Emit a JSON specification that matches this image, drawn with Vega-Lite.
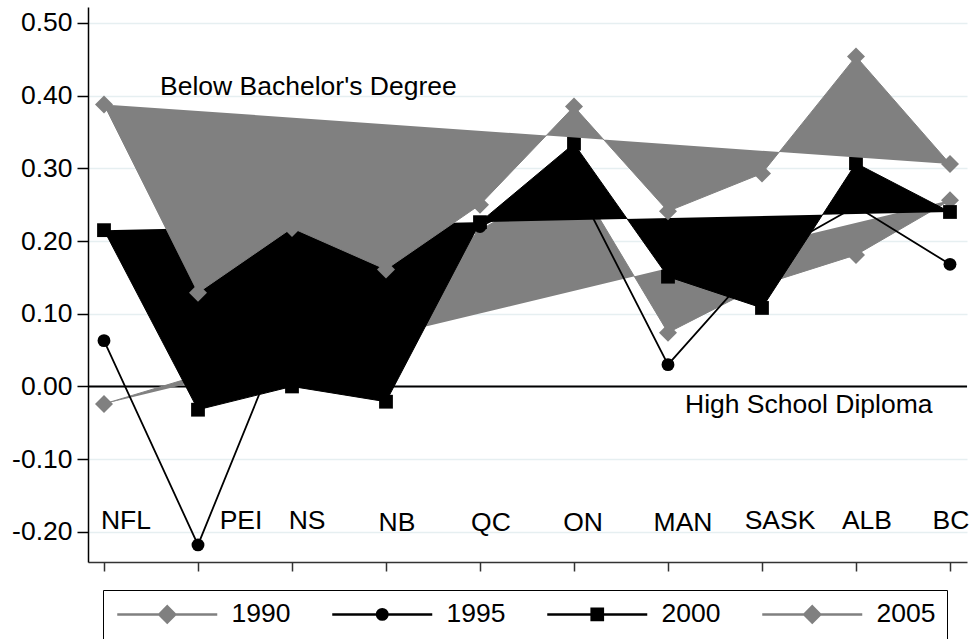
{
  "$schema": "https://vega.github.io/schema/vega-lite/v6.json",
  "width": 879,
  "height": 555,
  "autosize": {"type": "none"},
  "padding": {"left": 88, "top": 7, "right": 6, "bottom": 77},
  "background": "white",
  "config": {"view": {"stroke": null}, "font": "Liberation Sans"},
  "datasets": {
    "rates": [
      {"prov": "NFL", "x": 1, "series": "1990", "value": -0.024},
      {"prov": "PEI", "x": 2, "series": "1990", "value": 0.015},
      {"prov": "NS", "x": 3, "series": "1990", "value": 0.12},
      {"prov": "NB", "x": 4, "series": "1990", "value": 0.1},
      {"prov": "QC", "x": 5, "series": "1990", "value": 0.215},
      {"prov": "ON", "x": 6, "series": "1990", "value": 0.29},
      {"prov": "MAN", "x": 7, "series": "1990", "value": 0.074},
      {"prov": "SASK", "x": 8, "series": "1990", "value": 0.14},
      {"prov": "ALB", "x": 9, "series": "1990", "value": 0.181},
      {"prov": "BC", "x": 10, "series": "1990", "value": 0.256},
      {"prov": "NFL", "x": 1, "series": "1995", "value": 0.063},
      {"prov": "PEI", "x": 2, "series": "1995", "value": -0.218},
      {"prov": "NS", "x": 3, "series": "1995", "value": 0.1},
      {"prov": "NB", "x": 4, "series": "1995", "value": 0.15},
      {"prov": "QC", "x": 5, "series": "1995", "value": 0.22},
      {"prov": "ON", "x": 6, "series": "1995", "value": 0.283},
      {"prov": "MAN", "x": 7, "series": "1995", "value": 0.03},
      {"prov": "SASK", "x": 8, "series": "1995", "value": 0.175},
      {"prov": "ALB", "x": 9, "series": "1995", "value": 0.248},
      {"prov": "BC", "x": 10, "series": "1995", "value": 0.168},
      {"prov": "NFL", "x": 1, "series": "2000", "value": 0.215},
      {"prov": "PEI", "x": 2, "series": "2000", "value": -0.032},
      {"prov": "NS", "x": 3, "series": "2000", "value": 0.0},
      {"prov": "NB", "x": 4, "series": "2000", "value": -0.021},
      {"prov": "QC", "x": 5, "series": "2000", "value": 0.226},
      {"prov": "ON", "x": 6, "series": "2000", "value": 0.334},
      {"prov": "MAN", "x": 7, "series": "2000", "value": 0.151},
      {"prov": "SASK", "x": 8, "series": "2000", "value": 0.108},
      {"prov": "ALB", "x": 9, "series": "2000", "value": 0.307},
      {"prov": "BC", "x": 10, "series": "2000", "value": 0.24},
      {"prov": "NFL", "x": 1, "series": "2005", "value": 0.388},
      {"prov": "PEI", "x": 2, "series": "2005", "value": 0.129},
      {"prov": "NS", "x": 3, "series": "2005", "value": 0.218},
      {"prov": "NB", "x": 4, "series": "2005", "value": 0.161},
      {"prov": "QC", "x": 5, "series": "2005", "value": 0.25},
      {"prov": "ON", "x": 6, "series": "2005", "value": 0.385},
      {"prov": "MAN", "x": 7, "series": "2005", "value": 0.241},
      {"prov": "SASK", "x": 8, "series": "2005", "value": 0.293},
      {"prov": "ALB", "x": 9, "series": "2005", "value": 0.454},
      {"prov": "BC", "x": 10, "series": "2005", "value": 0.306}
    ],
    "provlabels": [
      {"label": "NFL", "lx": 1.234, "ly": -0.1967},
      {"label": "PEI", "lx": 2.458, "ly": -0.1967},
      {"label": "NS", "lx": 3.16, "ly": -0.1967},
      {"label": "NB", "lx": 4.117, "ly": -0.1994},
      {"label": "QC", "lx": 5.117, "ly": -0.1994},
      {"label": "ON", "lx": 6.096, "ly": -0.1994},
      {"label": "MAN", "lx": 7.16, "ly": -0.1994},
      {"label": "SASK", "lx": 8.192, "ly": -0.1967},
      {"label": "ALB", "lx": 9.117, "ly": -0.1967},
      {"label": "BC", "lx": 10.01, "ly": -0.1967}
    ],
    "notes": [
      {"note": "Below Bachelor's Degree", "nx": 1.596, "ny": 0.401},
      {"note": "High School Diploma", "nx": 7.181, "ny": -0.036}
    ]
  },
  "data": {"name": "rates"},
  "layer": [
    {
      "data": {"values": [{"zero": 0}]},
      "mark": {"type": "rule", "color": "#000000", "strokeWidth": 2},
      "encoding": {
        "y": {
          "field": "zero",
          "type": "quantitative",
          "scale": {"domain": [-0.2415, 0.522], "nice": false, "zero": false},
          "axis": {
            "values": [-0.2, -0.1, 0, 0.1, 0.2, 0.3, 0.4, 0.5],
            "labelExpr": "replace(format(datum.value, '.2f'), '\u2212', '-')",
            "labelFontSize": 26.5,
            "labelFont": "Liberation Sans",
            "labelColor": "#000000",
            "labelPadding": 5,
            "tickSize": 11,
            "tickColor": "#000000",
            "tickWidth": 1.5,
            "domainColor": "#000000",
            "domainWidth": 1.5,
            "grid": true,
            "gridColor": "#e6eff1",
            "gridWidth": 1.5,
            "title": null
          }
        }
      }
    },
    {
      "transform": [{"filter": "datum.series === '1990'"}],
      "mark": {"type": "line", "filled": true, "fill": "#808080", "stroke": "#808080", "strokeWidth": 1},
      "encoding": {
        "x": {
          "field": "x",
          "type": "quantitative",
          "scale": {"domain": [0.8298, 10.181], "nice": false, "zero": false},
          "axis": {
            "values": [1, 2, 3, 4, 5, 6, 7, 8, 9, 10],
            "labels": false,
            "tickSize": 9,
            "tickColor": "#333333",
            "tickWidth": 1.5,
            "domainColor": "#333333",
            "domainWidth": 1.5,
            "grid": false,
            "title": null
          }
        },
        "y": {"field": "value", "type": "quantitative"},
        "order": {"field": "x"}
      }
    },
    {
      "transform": [{"filter": "datum.series === '1990'"}],
      "mark": {"type": "point", "shape": "diamond", "filled": true, "size": 324, "opacity": 1, "strokeWidth": 0, "color": "#808080"},
      "encoding": {
        "x": {"field": "x", "type": "quantitative"},
        "y": {"field": "value", "type": "quantitative"}
      }
    },
    {
      "transform": [{"filter": "datum.series === '1995'"}],
      "mark": {"type": "line", "color": "#000000", "strokeWidth": 1.8},
      "encoding": {
        "x": {"field": "x", "type": "quantitative"},
        "y": {"field": "value", "type": "quantitative"},
        "order": {"field": "x"}
      }
    },
    {
      "transform": [{"filter": "datum.series === '1995'"}],
      "mark": {"type": "point", "shape": "circle", "filled": true, "size": 165, "opacity": 1, "strokeWidth": 0, "color": "#000000"},
      "encoding": {
        "x": {"field": "x", "type": "quantitative"},
        "y": {"field": "value", "type": "quantitative"}
      }
    },
    {
      "transform": [{"filter": "datum.series === '2000'"}],
      "mark": {"type": "line", "filled": true, "fill": "#000000", "stroke": "#000000", "strokeWidth": 1},
      "encoding": {
        "x": {"field": "x", "type": "quantitative"},
        "y": {"field": "value", "type": "quantitative"},
        "order": {"field": "x"}
      }
    },
    {
      "transform": [{"filter": "datum.series === '2000'"}],
      "mark": {"type": "point", "shape": "square", "filled": true, "size": 190, "opacity": 1, "strokeWidth": 0, "color": "#000000"},
      "encoding": {
        "x": {"field": "x", "type": "quantitative"},
        "y": {"field": "value", "type": "quantitative"}
      }
    },
    {
      "transform": [{"filter": "datum.series === '2005'"}],
      "mark": {"type": "line", "filled": true, "fill": "#808080", "stroke": "#808080", "strokeWidth": 1},
      "encoding": {
        "x": {"field": "x", "type": "quantitative"},
        "y": {"field": "value", "type": "quantitative"},
        "order": {"field": "x"}
      }
    },
    {
      "transform": [{"filter": "datum.series === '2005'"}],
      "mark": {"type": "point", "shape": "diamond", "filled": true, "size": 324, "opacity": 1, "strokeWidth": 0, "color": "#808080"},
      "encoding": {
        "x": {"field": "x", "type": "quantitative"},
        "y": {"field": "value", "type": "quantitative"}
      }
    },
    {
      "transform": [{"filter": "datum.x === 1"}],
      "mark": {"type": "point", "filled": false, "opacity": 0, "strokeWidth": 2.5},
      "encoding": {
        "x": {"field": "x", "type": "quantitative"},
        "y": {"field": "value", "type": "quantitative"},
        "color": {
          "field": "series",
          "type": "nominal",
          "scale": {"domain": ["1990", "1995", "2000", "2005"], "range": ["#808080", "#000000", "#000000", "#808080"]},
          "legend": {
            "orient": "none",
            "legendX": 15,
            "legendY": 583,
            "direction": "horizontal",
            "columns": 4,
            "title": null,
            "strokeColor": "#000000",
            "fillColor": "#ffffff",
            "padding": 11,
            "symbolSize": 400,
            "symbolStrokeWidth": 2.5,
            "symbolOpacity": 1,
            "symbolOffset": 40,
            "labelOffset": 51,
            "columnPadding": 36,
            "labelFontSize": 26.5,
            "labelFont": "Liberation Sans",
            "labelColor": "#000000",
            "labelLimit": 300
          }
        },
        "shape": {
          "field": "series",
          "type": "nominal",
          "scale": {
            "domain": ["1990", "1995", "2000", "2005"],
            "range": [
              "M-5,0H5M0,-0.8L0.8,0L0,0.8L-0.8,0ZM0,-0.55L0.55,0L0,0.55L-0.55,0ZM0,-0.3L0.3,0L0,0.3L-0.3,0ZM0,-0.08L0.08,0L0,0.08L-0.08,0Z",
              "M-5,0H5M0.52,0A0.52,0.52,0,1,1,-0.52,0A0.52,0.52,0,1,1,0.52,0ZM0.3,0A0.3,0.3,0,1,1,-0.3,0A0.3,0.3,0,1,1,0.3,0ZM0.08,0A0.08,0.08,0,1,1,-0.08,0A0.08,0.08,0,1,1,0.08,0Z",
              "M-5,0H5M-0.56,-0.56H0.56V0.56H-0.56ZM-0.33,-0.33H0.33V0.33H-0.33ZM-0.1,-0.1H0.1V0.1H-0.1Z",
              "M-5,0H5M0,-0.8L0.8,0L0,0.8L-0.8,0ZM0,-0.55L0.55,0L0,0.55L-0.55,0ZM0,-0.3L0.3,0L0,0.3L-0.3,0ZM0,-0.08L0.08,0L0,0.08L-0.08,0Z"
            ]
          }
        }
      }
    },
    {
      "data": {"name": "provlabels"},
      "mark": {"type": "text", "align": "center", "baseline": "alphabetic", "font": "Liberation Sans", "fontSize": 26.5, "color": "#000000"},
      "encoding": {
        "x": {"field": "lx", "type": "quantitative"},
        "y": {"field": "ly", "type": "quantitative"},
        "text": {"field": "label"}
      }
    },
    {
      "data": {"name": "notes"},
      "mark": {"type": "text", "align": "left", "baseline": "alphabetic", "font": "Liberation Sans", "fontSize": 26.5, "color": "#000000"},
      "encoding": {
        "x": {"field": "nx", "type": "quantitative"},
        "y": {"field": "ny", "type": "quantitative"},
        "text": {"field": "note"}
      }
    }
  ]
}
